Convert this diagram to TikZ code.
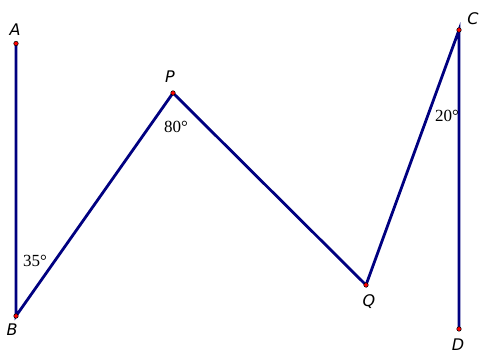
\documentclass[tikz,border=0pt]{standalone}
\usepackage{fontspec}
\setmainfont{Liberation Serif}
\newfontfamily\ptfont{DejaVu Sans}
\begin{document}
\begin{tikzpicture}[x=1pt,y=-1pt,
  seg/.style={draw={rgb,255:red,0;green,0;blue,128},line width=2.8pt},
  pt/.style={circle,fill=red,draw=black,line width=0.5pt,inner sep=0pt,minimum size=4.5pt},
  lbl/.style={font=\ptfont\itshape\fontsize{16}{16}\selectfont,inner sep=0pt},
  ang/.style={font=\fontsize{17}{17}\selectfont,inner sep=0pt}]
\useasboundingbox (0,0) rectangle (479,352);
\coordinate (A) at (16,43.5);
\coordinate (B) at (16,316);
\coordinate (P) at (173,93);
\coordinate (Q) at (366,285);
\coordinate (C) at (459,30);
\coordinate (D) at (459,329);
\draw[seg] (A) -- (B) -- (P) -- (Q) -- (C) -- (D);
\foreach \p in {A,B,P,Q,C,D} \node[pt] at (\p) {};
\node[lbl] (lA) at (15,30) {A};
\node[lbl] (lP) at (170,77) {P};
\node[lbl] (lC) at (473,19) {C};
\node[lbl] (lB) at (12,330) {B};
\node[lbl] (lQ) at (369,302) {Q};
\node[lbl] (lD) at (458,345) {D};
\node[ang] (a80) at (176,127) {80°};
\node[ang] (a20) at (447,116) {20°};
\node[ang] (a35) at (35,261) {35°};
\end{tikzpicture}
\end{document}
